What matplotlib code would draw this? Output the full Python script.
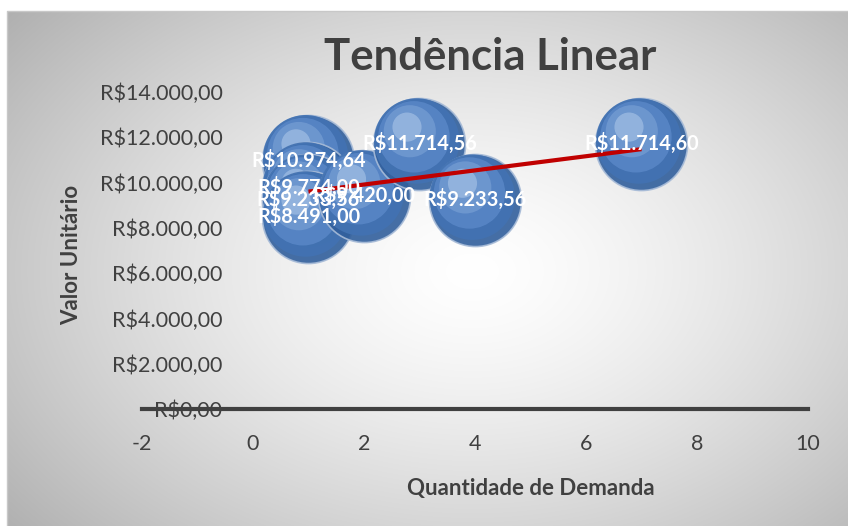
import matplotlib
matplotlib.use('Agg')
import matplotlib.pyplot as plt
import matplotlib.transforms as mtransforms
from matplotlib.ticker import FuncFormatter
import numpy as np

plt.rcParams['font.family'] = ['Lato', 'DejaVu Sans']
plt.rcParams['axes.unicode_minus'] = False

# dados do gráfico de bolhas
demanda = [1, 1, 1, 1, 2, 3, 4, 7]
valor = [10974.64, 9774.00, 9233.56, 8491.00, 9420.00, 11714.56, 9233.56, 11714.60]
x_ticks = [-2, 0, 2, 4, 6, 8, 10]
y_ticks = [0, 2000, 4000, 6000, 8000, 10000, 12000, 14000]

cinza = '#404040'


def reais(v, pos=None):
    s = f"{v:,.2f}".replace(',', 'X').replace('.', ',').replace('X', '.')
    return 'R$' + s


W, H = 848, 526
fig = plt.figure(figsize=(W / 100, H / 100), dpi=100)
fig.patch.set_facecolor('white')

# fundo com gradiente radial (cinza nas bordas, branco no centro)
bg = fig.add_axes([7 / W, 0, 1 - 7 / W, 1 - 11 / H], zorder=0)
yy, xx = np.mgrid[0:H - 11, 0:W - 7]
r = np.sqrt(((xx - 465) / 500.0) ** 2 + ((yy - 260) / 340.0) ** 2)
tom = 1.0 - 0.24 * np.clip(r, 0, 1.2) ** 1.4
bg.imshow(np.dstack([tom, tom, tom]), aspect='auto', vmin=0, vmax=1)
bg.axis('off')
fig.add_artist(plt.Line2D([7 / W, 7 / W, 1], [0, 1 - 11 / H, 1 - 11 / H],
                          transform=fig.transFigure, color='#c8c8c8', lw=1))

ax = fig.add_axes([142 / W, 1 - 409 / H, (808 - 142) / W, (409 - 92) / H], zorder=1)
ax.set_facecolor('none')
ax.set_xlim(-2, 10)
ax.set_ylim(0, 14000)
ax.set_xticks(x_ticks)
ax.set_yticks(y_ticks)
ax.yaxis.set_major_formatter(FuncFormatter(reais))
ax.spines['left'].set_position(('data', 0))
ax.spines['left'].set_visible(False)
ax.spines['top'].set_visible(False)
ax.spines['right'].set_visible(False)
ax.spines['bottom'].set_color(cinza)
ax.spines['bottom'].set_linewidth(3)
ax.spines['bottom'].set_zorder(1)
ax.tick_params(axis='both', length=0, labelsize=15.5, labelcolor=cinza)
ax.tick_params(axis='x', pad=18)
ax.tick_params(axis='y', pad=22)
for t in ax.get_yticklabels():
    t.set_zorder(0.5)

# bolhas com efeito 3D (camadas sobrepostas)
S = 4400
camadas = [
    (1.00, '#315f9c', 0, 0, 0.9),
    (0.86, '#4272b2', -2, 2, 0.95),
    (0.60, '#5886c6', -4, 5, 0.9),
    (0.32, '#739bd2', -7, 9, 0.8),
    (0.10, '#a2bfe4', -9, 12, 0.7),
]
for i, (xv, yv) in enumerate(zip(demanda, valor)):
    for frac, cor, dx, dy, a in camadas:
        tr = mtransforms.offset_copy(ax.transData, fig=fig, x=dx, y=dy, units='points')
        ax.scatter([xv], [yv], s=S * frac, color=cor, alpha=a, transform=tr,
                   edgecolors='#a8bcd8' if frac == 1.0 else 'none',
                   linewidths=1.2, zorder=2 + i * 0.1)

# linha de tendência linear
coef = np.polyfit(demanda, valor, 1)
xs = np.array([min(demanda), max(demanda)])
ax.plot(xs, np.polyval(coef, xs), color='#c00000', lw=3, zorder=4, solid_capstyle='butt')

# rótulos de dados
for xv, yv in zip(demanda, valor):
    ax.text(xv, yv, reais(yv), color='white', fontsize=14.3, fontweight='bold',
            ha='center', va='center', zorder=5)

fig.text(490 / W, 1 - 57 / H, 'Tendência Linear', ha='center', va='center',
         fontsize=31.5, fontweight='bold', color=cinza)
fig.text(531 / W, 1 - 488 / H, 'Quantidade de Demanda', ha='center', va='center',
         fontsize=16, fontweight='bold', color=cinza)
fig.text(72 / W, 1 - 255 / H, 'Valor Unitário', ha='center', va='center',
         rotation=90, fontsize=16, fontweight='bold', color=cinza)

fig.savefig('out.png', dpi=100)
